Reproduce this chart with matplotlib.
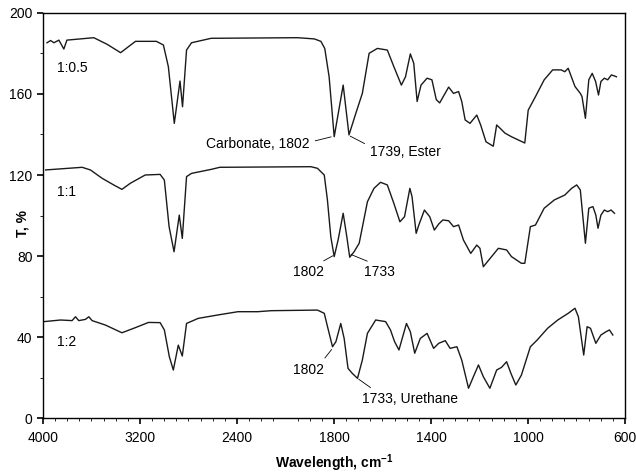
import numpy as np
import matplotlib
matplotlib.use('Agg')
import matplotlib.pyplot as plt
from matplotlib.ticker import FixedLocator, NullFormatter

plt.rcParams['font.family'] = ['Liberation Sans', 'DejaVu Sans']
plt.rcParams['mathtext.fontset'] = 'custom'
plt.rcParams['mathtext.rm'] = 'Liberation Sans'
plt.rcParams['mathtext.bf'] = 'Liberation Sans:bold'

# ---- data (wavenumber cm-1, T %) ----
wn_05 = [3967, 3937, 3910, 3869, 3828, 3803, 3581, 3470, 3360, 3237, 3065,
         3007, 2966, 2917, 2870, 2849, 2816, 2775, 2613, 1950, 1881,
         1854, 1838, 1820, 1799, 1762, 1738, 1710, 1683, 1655, 1621,
         1580, 1553, 1522, 1505, 1485, 1471, 1457, 1441, 1416, 1396,
         1378, 1364, 1327, 1307, 1286, 1273, 1259, 1239, 1211, 1195,
         1173, 1143, 1129, 1115, 1095, 1068, 1013, 999, 969, 933,
         898, 863, 848, 834, 806, 784, 777, 763, 749, 735,
         721, 709, 699, 685, 671, 656, 643, 635]
t_05 = [185.3, 186.4, 185.3, 186.6, 182.2, 186.6, 187.8, 184.5, 180.4, 186, 186,
        184.2, 173.5, 145.5, 166.4, 153.7, 181.7, 185.3, 187.5, 187.8, 187.2,
        186, 182.5, 168.5, 138.9, 164.4, 139.8, 150.4, 160.3, 180.1, 182.5,
        181.7, 173.5, 164.4, 168.5, 179.8, 175.2, 156.3, 164.4, 167.8, 167,
        157.2, 155.6, 163.4, 160.3, 161.2, 156.3, 147.2, 145.5, 149.6, 144.7,
        136.4, 134.2, 144.7, 143.1, 140.7, 138.9, 135.8, 152, 158.7, 167,
        171.9, 171.9, 171, 172.7, 163.7, 160.3, 158.7, 148, 167, 170.2,
        166.2, 159.5, 166.2, 167.8, 167, 169.4, 168.9, 168.5]

wn_1 = [3978, 3677, 3609, 3513, 3417, 3349, 3280, 3157, 3034, 2999,
        2960, 2919, 2876, 2851, 2816, 2775, 2611, 2542, 1895, 1868,
        1840, 1827, 1813, 1799, 1783, 1762, 1747, 1735, 1717, 1696,
        1662, 1635, 1608, 1580, 1553, 1528, 1509, 1487, 1478, 1461,
        1450, 1427, 1405, 1386, 1368, 1351, 1327, 1307, 1286, 1266,
        1236, 1211, 1198, 1184, 1150, 1122, 1088, 1068, 1027, 1013,
        990, 969, 933, 891, 848, 820, 799, 784, 763, 749,
        732, 720, 711, 699, 685, 671, 657, 643]
t_1 = [122.5, 123.8, 122.5, 118.4, 115.1, 112.9, 115.9, 120, 120.3, 117.5,
       94.5, 82.1, 100.2, 88.7, 119.2, 120.8, 122.8, 123.8, 124.1, 123.3,
       120, 107.7, 89.5, 79.7, 87.9, 101.1, 89.5, 79.4, 82.1, 86.3,
       106.8, 113.4, 116.4, 115.1, 106, 96.9, 99.4, 113.4, 109.3, 91.2,
       95.3, 102.7, 99.4, 92.8, 95.8, 97.8, 97.4, 94.5, 95.3, 87.9,
       81.3, 85.4, 83.8, 74.7, 79.7, 83.8, 83, 79.7, 76.4, 76.4,
       94.5, 95.3, 103.6, 107.7, 110.1, 113.4, 115.1, 112.6, 86.3, 103.6,
       104.4, 100.2, 93.7, 100.2, 102.7, 101.9, 102.7, 101.1]

wn_2 = [3992, 3855, 3760, 3732, 3705, 3650, 3622, 3595, 3485, 3349,
        3239, 3130, 3034, 2999, 2958, 2925, 2884, 2851, 2816, 2720,
        2556, 2392, 2228, 2118, 1868, 1840, 1827, 1806, 1792, 1772,
        1758, 1742, 1724, 1703, 1683, 1662, 1628, 1587, 1567, 1550,
        1532, 1501, 1485, 1467, 1444, 1416, 1389, 1368, 1341, 1321,
        1293, 1273, 1245, 1225, 1204, 1184, 1157, 1129, 1109, 1088,
        1070, 1050, 1027, 990, 962, 919, 877, 834, 806, 792,
        770, 756, 742, 720, 699, 678, 664, 650]
t_2 = [47.6, 48.4, 48.1, 50, 48.1, 48.7, 50, 48.1, 45.9, 42.1,
       44.6, 47.2, 47.1, 43.5, 30.3, 23.7, 36, 30.6, 46.7, 49.2,
       50.9, 52.5, 52.5, 53, 53.3, 51.7, 45.3, 35.2, 37.7, 46.7,
       39.3, 24.5, 22, 19.6, 28.6, 41.8, 48.4, 47.6, 43.5, 37.7,
       33.6, 46.7, 42.6, 32, 39.3, 41.8, 34.4, 36.9, 38.2, 34.4,
       35.2, 28.6, 14.7, 20.4, 26.2, 20.4, 14.7, 23.7, 25, 27.8,
       22, 16.3, 21.2, 35.2, 38.5, 44.3, 48.4, 51.7, 54.2, 50,
       31.1, 45.1, 44.3, 36.9, 41, 42.6, 43.5, 41]

x_ticks = [4000, 3200, 2400, 1800, 1400, 1000, 600]
y_ticks = [0, 40, 80, 120, 160, 200]

# series labels: (text, wavenumber, T)
series_labels = [("1:0.5", 3885, 173), ("1:1", 3885, 111.6), ("1:2", 3885, 37.5)]

# peak annotations: text, peak (wn, T), text pos (wn, T), ha, relpos
peak_notes = [
    ("Carbonate, 1802", (1806, 139), (1900, 135.5), 'right', (1.0, 0.6)),
    ("1739, Ester", (1738, 139.5), (1652, 131.4), 'left', (0.0, 0.9)),
    ("1802", (1799, 80.5), (1841, 72.1), 'right', (0.75, 1.0)),
    ("1733", (1735, 81), (1675, 72.1), 'left', (0.4, 1.0)),
    ("1802", (1806, 34.4), (1841, 23.7), 'right', (0.9, 1.0)),
    ("1733, Urethane", (1703, 19.6), (1683, 9.4), 'left', (0.15, 1.0)),
]


# scale above 2000 cm-1 is compressed by half
def fwd(x):
    x = np.asarray(x, dtype=float)
    return np.where(x > 2000, 2000 + (x - 2000) / 2, x)


def inv(u):
    u = np.asarray(u, dtype=float)
    return np.where(u > 2000, 2000 + (u - 2000) * 2, u)


fig = plt.figure(figsize=(6.36, 4.74), dpi=100)
ax = fig.add_axes([0.0676, 0.1181, 0.915, 0.8545])
ax.set_xscale('function', functions=(fwd, inv))

for wn, t in [(wn_05, t_05), (wn_1, t_1), (wn_2, t_2)]:
    ax.plot(wn, t, color='#1a1a1a', lw=1.0)

ax.set_xlim(4000, 600)
ax.set_ylim(0, 200)
ax.xaxis.set_major_locator(FixedLocator(x_ticks))
ax.set_xticklabels([str(v) for v in x_ticks])
minor_x = list(range(3900, 2000, -100)) + list(range(1950, 600, -50))
ax.xaxis.set_minor_locator(FixedLocator(minor_x))
ax.xaxis.set_minor_formatter(NullFormatter())
ax.set_yticks(y_ticks)
ax.yaxis.set_minor_locator(FixedLocator([20, 60, 100, 140, 180]))

ax.tick_params(axis='both', which='major', direction='out', length=4, width=1.2,
               labelsize=10, colors='black')
ax.tick_params(axis='both', which='minor', direction='out', length=2, width=0.6)
ax.tick_params(axis='x', pad=5)
for sp in ax.spines.values():
    sp.set_linewidth(1.0)
    sp.set_color('black')

ax.set_xlabel(r'Wavelength, cm$^{\mathbf{-1}}$', fontsize=10, fontweight='bold', labelpad=6)
ax.set_ylabel('T, %', fontsize=10, fontweight='bold')
ax.yaxis.set_label_coords(-0.024, 0.48)

for text, x, y in series_labels:
    ax.text(x, y, text, fontsize=10, ha='left', va='center')

for text, xy, xyt, ha, rp in peak_notes:
    ax.annotate(text, xy=xy, xytext=xyt, ha=ha, va='center', fontsize=10,
                arrowprops=dict(arrowstyle='-', lw=0.6, color='black',
                                shrinkA=2, shrinkB=1, relpos=rp))

fig.savefig('out.png', dpi=100)
